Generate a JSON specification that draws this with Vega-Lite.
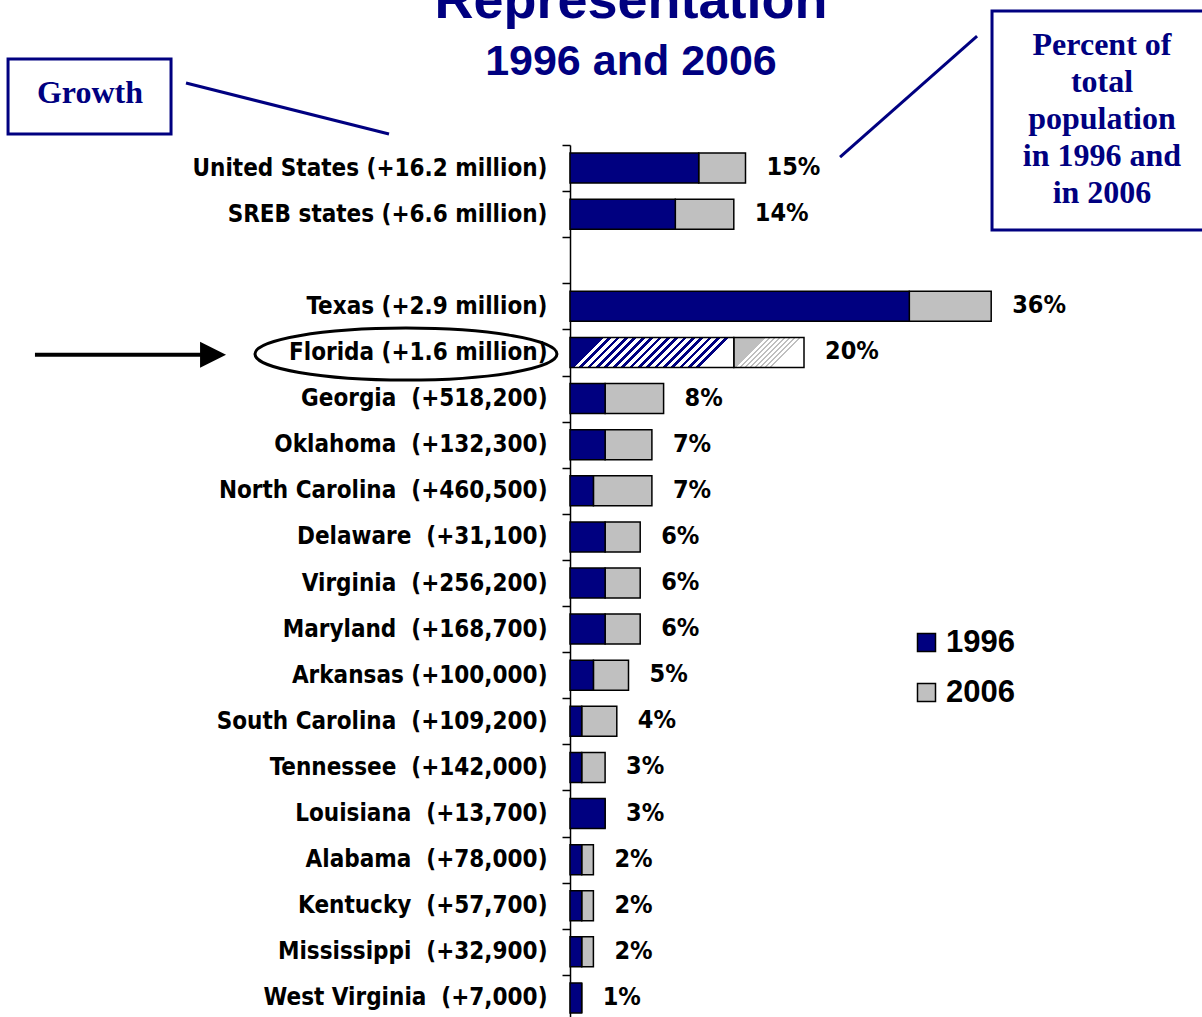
{
  "$schema": "https://vega.github.io/schema/vega-lite/v6.json",
  "autosize": "none",
  "padding": {"left": 570, "top": 145, "right": 47, "bottom": 0},
  "width": 585,
  "height": 876,
  "background": "white",
  "config": {"view": {"stroke": null}},
  "datasets": {
    "bars": [
      {"label": "United States (+16.2 million)", "v1996": 11, "v2006": 15, "pct": "15%"},
      {"label": "SREB states (+6.6 million)", "v1996": 9, "v2006": 14, "pct": "14%"},
      {"label": "Texas (+2.9 million)", "v1996": 29, "v2006": 36, "pct": "36%"},
      {"label": "Florida (+1.6 million)", "v1996": 14, "v2006": 20, "pct": "20%"},
      {"label": "Georgia\u00a0 (+518,200)", "v1996": 3, "v2006": 8, "pct": "8%"},
      {"label": "Oklahoma\u00a0 (+132,300)", "v1996": 3, "v2006": 7, "pct": "7%"},
      {"label": "North Carolina\u00a0 (+460,500)", "v1996": 2, "v2006": 7, "pct": "7%"},
      {"label": "Delaware\u00a0 (+31,100)", "v1996": 3, "v2006": 6, "pct": "6%"},
      {"label": "Virginia\u00a0 (+256,200)", "v1996": 3, "v2006": 6, "pct": "6%"},
      {"label": "Maryland\u00a0 (+168,700)", "v1996": 3, "v2006": 6, "pct": "6%"},
      {"label": "Arkansas (+100,000)", "v1996": 2, "v2006": 5, "pct": "5%"},
      {"label": "South Carolina\u00a0 (+109,200)", "v1996": 1, "v2006": 4, "pct": "4%"},
      {"label": "Tennessee\u00a0 (+142,000)", "v1996": 1, "v2006": 3, "pct": "3%"},
      {"label": "Louisiana\u00a0 (+13,700)", "v1996": 3, "v2006": 3, "pct": "3%"},
      {"label": "Alabama\u00a0 (+78,000)", "v1996": 1, "v2006": 2, "pct": "2%"},
      {"label": "Kentucky\u00a0 (+57,700)", "v1996": 1, "v2006": 2, "pct": "2%"},
      {"label": "Mississippi\u00a0 (+32,900)", "v1996": 1, "v2006": 2, "pct": "2%"},
      {"label": "West Virginia\u00a0 (+7,000)", "v1996": 1, "v2006": 1, "pct": "1%"}
    ],
    "boxes": [
      {"x1": -48.03, "x2": -34.1, "r1": -2.364, "r2": -0.7375},
      {"x1": 36.07, "x2": 60, "r1": -3.406, "r2": 1.345}
    ],
    "connectors": [
      {"x1": -32.82, "x2": -15.47, "r1": -1.844, "r2": -0.7375},
      {"x1": 34.79, "x2": 23.08, "r1": -2.863, "r2": -0.2386}
    ],
    "arrow": [{"x1": -45.73, "x2": -31.37, "r1": 4.05, "r2": 4.05}],
    "arrowhead": [{"x": -30.51, "r": 4.05}],
    "ellipse": [{"x": -14.02, "r": 4.035}],
    "growth": [{"x": -41.03, "r": -1.41, "text": "Growth"}],
    "pctnote": [{"x": 45.47, "r": -2.451, "text": "Percent of\ntotal\npopulation\nin 1996 and\nin 2006"}],
    "title1": [{"x": 5.21, "r": -3.254, "text": "Representation"}],
    "title2": [{"x": 5.21, "r": -2.017, "text": "1996 and 2006"}]
  },
  "resolve": {"scale": {"y": "independent"}, "axis": {"y": "independent"}},
  "layer": [
    {
      "data": {"name": "bars"},
      "layer": [
        {
          "transform": [{"filter": "datum.label !== 'Florida (+1.6 million)'"}],
          "mark": {"type": "bar", "size": 30, "stroke": "black", "strokeWidth": 1.5},
          "encoding": {
            "y": {"field": "label", "type": "nominal", "sort": null,
              "scale": {"domain": ["United States (+16.2 million)", "SREB states (+6.6 million)", " ", "Texas (+2.9 million)", "Florida (+1.6 million)", "Georgia\u00a0 (+518,200)", "Oklahoma\u00a0 (+132,300)", "North Carolina\u00a0 (+460,500)", "Delaware\u00a0 (+31,100)", "Virginia\u00a0 (+256,200)", "Maryland\u00a0 (+168,700)", "Arkansas (+100,000)", "South Carolina\u00a0 (+109,200)", "Tennessee\u00a0 (+142,000)", "Louisiana\u00a0 (+13,700)", "Alabama\u00a0 (+78,000)", "Kentucky\u00a0 (+57,700)", "Mississippi\u00a0 (+32,900)", "West Virginia\u00a0 (+7,000)"], "paddingInner": 0, "paddingOuter": 0},
              "axis": {"title": null, "domainColor": "black", "domainWidth": 1.5, "tickColor": "black", "tickWidth": 1.5, "tickSize": 8, "tickBand": "extent", "labelFont": "DejaVu Sans Condensed", "labelFontSize": 24, "labelFontWeight": "bold", "labelColor": "black", "labelPadding": 15, "labelLimit": 0}},
            "x": {"field": "v1996", "type": "quantitative", "scale": {"domain": [0, 50], "nice": false}, "axis": null},
            "x2": {"field": "v2006"},
            "color": {"datum": "2006", "type": "nominal",
              "scale": {"domain": ["1996", "2006"], "range": ["#000080", "#C0C0C0"]},
              "legend": {"orient": "none", "legendX": 341, "legendY": 482, "title": null, "symbolType": "square", "symbolSize": 324, "symbolStrokeColor": "black", "symbolStrokeWidth": 1.5, "labelFont": "Liberation Sans", "labelFontSize": 31, "labelFontWeight": "bold", "labelColor": "black", "rowPadding": 18, "labelOffset": 4, "padding": 0}}
          }
        },
        {
          "transform": [{"filter": "datum.label !== 'Florida (+1.6 million)'"}],
          "mark": {"type": "bar", "size": 30, "stroke": "black", "strokeWidth": 1.5},
          "encoding": {
            "y": {"field": "label", "type": "nominal", "sort": null},
            "x": {"field": "v1996", "type": "quantitative", "scale": {"domain": [0, 50], "nice": false}, "axis": null},
            "color": {"datum": "1996", "type": "nominal"}
          }
        },
        {
          "transform": [{"filter": "datum.label === 'Florida (+1.6 million)'"}],
          "mark": {"type": "bar", "size": 30, "stroke": "black", "strokeWidth": 1.5,
            "fill": {"gradient": "linear", "x1": 0, "y1": 1, "x2": 0.4842, "y2": 1.2069, "stops": [
              {"offset": 0, "color": "#BFBFBF"}, {"offset": 0.0563, "color": "#BFBFBF"}, {"offset": 0.0563, "color": "white"}, {"offset": 0.125, "color": "white"},
              {"offset": 0.125, "color": "#BFBFBF"}, {"offset": 0.1813, "color": "#BFBFBF"}, {"offset": 0.1813, "color": "white"}, {"offset": 0.25, "color": "white"},
              {"offset": 0.25, "color": "#BFBFBF"}, {"offset": 0.3063, "color": "#BFBFBF"}, {"offset": 0.3063, "color": "white"}, {"offset": 0.375, "color": "white"},
              {"offset": 0.375, "color": "#BFBFBF"}, {"offset": 0.4313, "color": "#BFBFBF"}, {"offset": 0.4313, "color": "white"}, {"offset": 0.5, "color": "white"},
              {"offset": 0.5, "color": "#BFBFBF"}, {"offset": 0.5563, "color": "#BFBFBF"}, {"offset": 0.5563, "color": "white"}, {"offset": 0.625, "color": "white"},
              {"offset": 0.625, "color": "#BFBFBF"}, {"offset": 0.6813, "color": "#BFBFBF"}, {"offset": 0.6813, "color": "white"}, {"offset": 0.75, "color": "white"},
              {"offset": 0.75, "color": "#BFBFBF"}, {"offset": 0.8063, "color": "#BFBFBF"}, {"offset": 0.8063, "color": "white"}, {"offset": 0.875, "color": "white"},
              {"offset": 0.875, "color": "#BFBFBF"}, {"offset": 0.9313, "color": "#BFBFBF"}, {"offset": 0.9313, "color": "white"}, {"offset": 1, "color": "white"}
            ]}},
          "encoding": {
            "y": {"field": "label", "type": "nominal", "sort": null},
            "x": {"field": "v1996", "type": "quantitative", "scale": {"domain": [0, 50], "nice": false}, "axis": null},
            "x2": {"field": "v2006"}
          }
        },
        {
          "transform": [{"filter": "datum.label === 'Florida (+1.6 million)'"}],
          "mark": {"type": "bar", "size": 30, "stroke": "black", "strokeWidth": 1.5,
            "fill": {"gradient": "linear", "x1": 0, "y1": 1, "x2": 0.7903, "y2": 1.1448, "stops": [
              {"offset": 0, "color": "#000080"}, {"offset": 0.0281, "color": "#000080"}, {"offset": 0.0281, "color": "white"}, {"offset": 0.0625, "color": "white"},
              {"offset": 0.0625, "color": "#000080"}, {"offset": 0.0906, "color": "#000080"}, {"offset": 0.0906, "color": "white"}, {"offset": 0.125, "color": "white"},
              {"offset": 0.125, "color": "#000080"}, {"offset": 0.1531, "color": "#000080"}, {"offset": 0.1531, "color": "white"}, {"offset": 0.1875, "color": "white"},
              {"offset": 0.1875, "color": "#000080"}, {"offset": 0.2156, "color": "#000080"}, {"offset": 0.2156, "color": "white"}, {"offset": 0.25, "color": "white"},
              {"offset": 0.25, "color": "#000080"}, {"offset": 0.2781, "color": "#000080"}, {"offset": 0.2781, "color": "white"}, {"offset": 0.3125, "color": "white"},
              {"offset": 0.3125, "color": "#000080"}, {"offset": 0.3406, "color": "#000080"}, {"offset": 0.3406, "color": "white"}, {"offset": 0.375, "color": "white"},
              {"offset": 0.375, "color": "#000080"}, {"offset": 0.4031, "color": "#000080"}, {"offset": 0.4031, "color": "white"}, {"offset": 0.4375, "color": "white"},
              {"offset": 0.4375, "color": "#000080"}, {"offset": 0.4656, "color": "#000080"}, {"offset": 0.4656, "color": "white"}, {"offset": 0.5, "color": "white"},
              {"offset": 0.5, "color": "#000080"}, {"offset": 0.5281, "color": "#000080"}, {"offset": 0.5281, "color": "white"}, {"offset": 0.5625, "color": "white"},
              {"offset": 0.5625, "color": "#000080"}, {"offset": 0.5906, "color": "#000080"}, {"offset": 0.5906, "color": "white"}, {"offset": 0.625, "color": "white"},
              {"offset": 0.625, "color": "#000080"}, {"offset": 0.6531, "color": "#000080"}, {"offset": 0.6531, "color": "white"}, {"offset": 0.6875, "color": "white"},
              {"offset": 0.6875, "color": "#000080"}, {"offset": 0.7156, "color": "#000080"}, {"offset": 0.7156, "color": "white"}, {"offset": 0.75, "color": "white"},
              {"offset": 0.75, "color": "#000080"}, {"offset": 0.7781, "color": "#000080"}, {"offset": 0.7781, "color": "white"}, {"offset": 0.8125, "color": "white"},
              {"offset": 0.8125, "color": "#000080"}, {"offset": 0.8406, "color": "#000080"}, {"offset": 0.8406, "color": "white"}, {"offset": 0.875, "color": "white"},
              {"offset": 0.875, "color": "#000080"}, {"offset": 0.9031, "color": "#000080"}, {"offset": 0.9031, "color": "white"}, {"offset": 0.9375, "color": "white"},
              {"offset": 0.9375, "color": "#000080"}, {"offset": 0.9656, "color": "#000080"}, {"offset": 0.9656, "color": "white"}, {"offset": 1, "color": "white"}
            ]}},
          "encoding": {
            "y": {"field": "label", "type": "nominal", "sort": null},
            "x": {"field": "v1996", "type": "quantitative", "scale": {"domain": [0, 50], "nice": false}, "axis": null}
          }
        },
        {
          "mark": {"type": "text", "align": "left", "baseline": "middle", "dx": 21, "dy": -1, "font": "DejaVu Sans Condensed", "fontSize": 25, "fontWeight": "bold", "color": "black"},
          "encoding": {
            "y": {"field": "label", "type": "nominal", "sort": null},
            "x": {"field": "v2006", "type": "quantitative", "scale": {"domain": [0, 50], "nice": false}, "axis": null},
            "text": {"field": "pct"}
          }
        }
      ]
    },
    {
      "data": {"name": "boxes"},
      "mark": {"type": "rect", "fill": "white", "stroke": "#000080", "strokeWidth": 3},
      "encoding": {
        "x": {"field": "x1", "type": "quantitative", "scale": {"domain": [0, 50], "nice": false}, "axis": null},
        "x2": {"field": "x2"},
        "y": {"field": "r1", "type": "quantitative", "scale": {"domain": [-0.5, 18.5], "reverse": true, "nice": false, "zero": false}, "axis": null},
        "y2": {"field": "r2"}
      }
    },
    {
      "data": {"name": "connectors"},
      "mark": {"type": "rule", "stroke": "#000080", "strokeWidth": 3},
      "encoding": {
        "x": {"field": "x1", "type": "quantitative", "scale": {"domain": [0, 50], "nice": false}, "axis": null},
        "x2": {"field": "x2"},
        "y": {"field": "r1", "type": "quantitative", "scale": {"domain": [-0.5, 18.5], "reverse": true, "nice": false, "zero": false}, "axis": null},
        "y2": {"field": "r2"}
      }
    },
    {
      "data": {"name": "arrow"},
      "mark": {"type": "rule", "stroke": "black", "strokeWidth": 4},
      "encoding": {
        "x": {"field": "x1", "type": "quantitative", "scale": {"domain": [0, 50], "nice": false}, "axis": null},
        "x2": {"field": "x2"},
        "y": {"field": "r1", "type": "quantitative", "scale": {"domain": [-0.5, 18.5], "reverse": true, "nice": false, "zero": false}, "axis": null},
        "y2": {"field": "r2"}
      }
    },
    {
      "data": {"name": "arrowhead"},
      "mark": {"type": "point", "shape": "M-1,-1L1,0L-1,1Z", "size": 676, "filled": true, "color": "black", "opacity": 1},
      "encoding": {
        "x": {"field": "x", "type": "quantitative", "scale": {"domain": [0, 50], "nice": false}, "axis": null},
        "y": {"field": "r", "type": "quantitative", "scale": {"domain": [-0.5, 18.5], "reverse": true, "nice": false, "zero": false}, "axis": null}
      }
    },
    {
      "data": {"name": "ellipse"},
      "mark": {"type": "point", "shape": "M-1,0A1,0.172,0,1,0,1,0A1,0.172,0,1,0,-1,0Z", "size": 91204, "filled": false, "stroke": "black", "strokeWidth": 3, "opacity": 1},
      "encoding": {
        "x": {"field": "x", "type": "quantitative", "scale": {"domain": [0, 50], "nice": false}, "axis": null},
        "y": {"field": "r", "type": "quantitative", "scale": {"domain": [-0.5, 18.5], "reverse": true, "nice": false, "zero": false}, "axis": null}
      }
    },
    {
      "data": {"name": "growth"},
      "mark": {"type": "text", "align": "center", "baseline": "alphabetic", "font": "Liberation Serif", "fontSize": 32, "fontWeight": "bold", "color": "#000080"},
      "encoding": {
        "x": {"field": "x", "type": "quantitative", "scale": {"domain": [0, 50], "nice": false}, "axis": null},
        "y": {"field": "r", "type": "quantitative", "scale": {"domain": [-0.5, 18.5], "reverse": true, "nice": false, "zero": false}, "axis": null},
        "text": {"field": "text"}
      }
    },
    {
      "data": {"name": "pctnote"},
      "mark": {"type": "text", "align": "center", "baseline": "alphabetic", "lineBreak": "\n", "lineHeight": 37, "font": "Liberation Serif", "fontSize": 32, "fontWeight": "bold", "color": "#000080"},
      "encoding": {
        "x": {"field": "x", "type": "quantitative", "scale": {"domain": [0, 50], "nice": false}, "axis": null},
        "y": {"field": "r", "type": "quantitative", "scale": {"domain": [-0.5, 18.5], "reverse": true, "nice": false, "zero": false}, "axis": null},
        "text": {"field": "text"}
      }
    },
    {
      "data": {"name": "title1"},
      "mark": {"type": "text", "align": "center", "baseline": "alphabetic", "font": "Liberation Sans", "fontSize": 54, "fontWeight": "bold", "color": "#000080"},
      "encoding": {
        "x": {"field": "x", "type": "quantitative", "scale": {"domain": [0, 50], "nice": false}, "axis": null},
        "y": {"field": "r", "type": "quantitative", "scale": {"domain": [-0.5, 18.5], "reverse": true, "nice": false, "zero": false}, "axis": null},
        "text": {"field": "text"}
      }
    },
    {
      "data": {"name": "title2"},
      "mark": {"type": "text", "align": "center", "baseline": "alphabetic", "font": "Liberation Sans", "fontSize": 43, "fontWeight": "bold", "color": "#000080"},
      "encoding": {
        "x": {"field": "x", "type": "quantitative", "scale": {"domain": [0, 50], "nice": false}, "axis": null},
        "y": {"field": "r", "type": "quantitative", "scale": {"domain": [-0.5, 18.5], "reverse": true, "nice": false, "zero": false}, "axis": null},
        "text": {"field": "text"}
      }
    }
  ]
}
